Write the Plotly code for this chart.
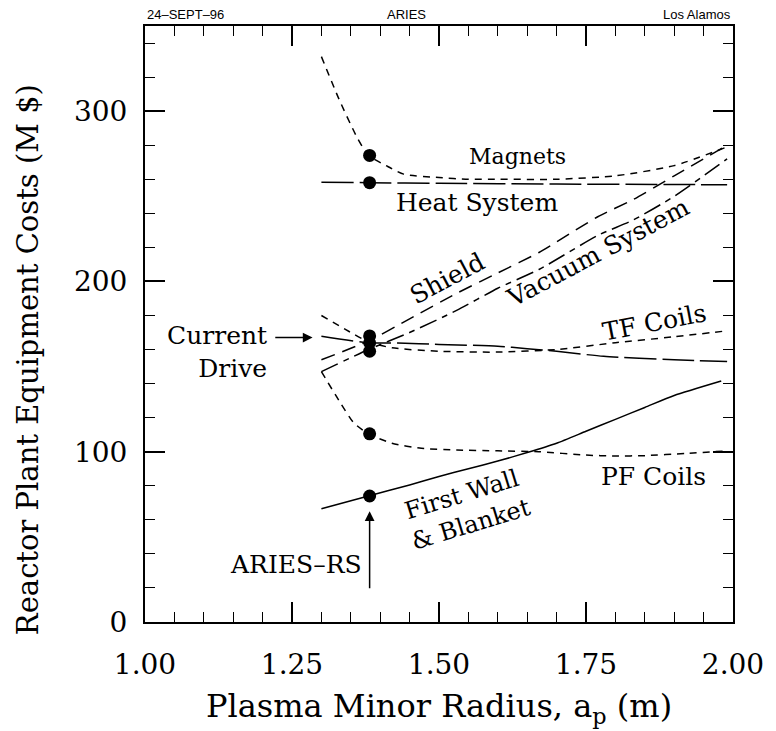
import plotly.graph_objects as go

# ---- data ----
magnets_x = [1.30, 1.33, 1.36, 1.38, 1.41, 1.44, 1.50, 1.55, 1.60, 1.70, 1.80, 1.90, 1.99]
magnets_y = [332, 307, 285, 274, 268, 263, 261, 260, 260, 260, 262, 268, 279]

heat_x = [1.30, 1.38, 1.50, 1.70, 1.90, 1.99]
heat_y = [258.3, 258, 257.6, 257.2, 256.9, 256.8]

shield_x = [1.30, 1.38, 1.45, 1.53, 1.60, 1.67, 1.77, 1.83, 1.90, 1.99]
shield_y = [154, 165, 178, 193, 205, 217, 238, 248, 262, 280]

vacuum_x = [1.30, 1.38, 1.45, 1.53, 1.60, 1.67, 1.77, 1.83, 1.90, 1.99]
vacuum_y = [147, 160, 170, 183, 196, 207, 227, 236, 250, 272]

current_x = [1.30, 1.38, 1.43, 1.50, 1.60, 1.65, 1.70, 1.78, 1.90, 1.99]
current_y = [167.8, 164, 163.8, 163, 162, 160.5, 159, 156, 154, 153]

tf_x = [1.30, 1.34, 1.38, 1.42, 1.50, 1.60, 1.70, 1.80, 1.90, 1.99]
tf_y = [180, 172, 164.5, 161, 159, 158.5, 160, 164, 167.5, 171]

pf_x = [1.30, 1.33, 1.355, 1.38, 1.42, 1.47, 1.53, 1.60, 1.67, 1.75, 1.80, 1.85, 1.92, 1.99]
pf_y = [147, 130, 117, 110.5, 105, 102, 101, 100.5, 100, 98, 97.5, 97.7, 99, 100.5]

fw_x = [1.30, 1.38, 1.45, 1.50, 1.55, 1.60, 1.65, 1.70, 1.75, 1.80, 1.85, 1.90, 1.98]
fw_y = [66.5, 74, 80.5, 85.5, 90, 94.5, 99.5, 105, 112, 119, 126, 133, 141.5]

design_x = [1.382] * 7
design_y = [274, 258, 168, 164, 159, 110.5, 74]

x_ticks = [1.00, 1.25, 1.50, 1.75, 2.00]
x_ticklabels = ["1.00", "1.25", "1.50", "1.75", "2.00"]
y_ticks = [0, 100, 200, 300]

SERIF = "DejaVu Serif"
BLACK = "black"
LW = 1.5

fig = go.Figure()

def add_line(x, y, dash):
    fig.add_trace(go.Scatter(x=x, y=y, mode="lines",
                             line=dict(color=BLACK, width=LW, dash=dash, shape="spline", smoothing=0.6),
                             hoverinfo="skip", showlegend=False))

add_line(magnets_x, magnets_y, "7px,6px")
add_line(heat_x, heat_y, "32px,6px")
add_line(shield_x, shield_y, "14px,8px")
add_line(vacuum_x, vacuum_y, "18px,6px,6px,6px")
add_line(current_x, current_y, "32px,6px")
add_line(tf_x, tf_y, "7px,6px")
add_line(pf_x, pf_y, "7px,6px")
add_line(fw_x, fw_y, "solid")

fig.add_trace(go.Scatter(x=design_x, y=design_y, mode="markers",
                         marker=dict(color=BLACK, size=13),
                         hoverinfo="skip", showlegend=False))

ann = []
def label(text, x, y, size=22, angle=0, xanchor="center", align="center"):
    ann.append(dict(text=text, x=x, y=y, xref="x", yref="y", showarrow=False,
                    textangle=angle, xanchor=xanchor, yanchor="middle", align=align,
                    font=dict(family=SERIF, size=size, color=BLACK)))

label("Magnets", 1.633, 273.5, size=22)
label("Heat System", 1.564, 246.4, size=25)
label("Shield", 1.514, 202, angle=-28, size=25)
label("Vacuum System", 1.771, 216.8, angle=-28, size=25)
label("TF Coils", 1.866, 175.7, angle=-11, size=25)
label("PF Coils", 1.865, 85.5, size=25)
label("First Wall<br>&amp; Blanket", 1.546, 66, angle=-17, size=24)
label("Current<br>Drive", 1.211, 158.3, xanchor="right", align="right", size=25)
label("ARIES\u2013RS", 1.372, 33.7, xanchor="right", size=25)

# arrows
ann.append(dict(text="", x=1.285, y=167, ax=1.219, ay=167, xref="x", yref="y",
                axref="x", ayref="y", showarrow=True, arrowhead=2, arrowsize=1.3,
                arrowwidth=1.5, arrowcolor=BLACK))
ann.append(dict(text="", x=1.382, y=65, ax=1.382, ay=19, xref="x", yref="y",
                axref="x", ayref="y", showarrow=True, arrowhead=2, arrowsize=1.3,
                arrowwidth=1.5, arrowcolor=BLACK))

# axis titles as annotations (positioned like the reference)
ann.append(dict(text="Reactor Plant Equipment Costs (M $)", x=-0.2, y=0.44,
                xref="paper", yref="paper", xanchor="center", yanchor="middle",
                textangle=-90, showarrow=False, font=dict(family=SERIF, size=29, color=BLACK)))
ann.append(dict(text="Plasma Minor Radius, a<sub>p</sub> (m)", x=0.5, y=-0.145,
                xref="paper", yref="paper", xanchor="center", yanchor="middle",
                showarrow=False, font=dict(family=SERIF, size=32, color=BLACK)))

# header
hdr_font = dict(family="Liberation Sans", size=13, color=BLACK)
ann.append(dict(text="24\u2013SEPT\u201396", x=0, y=1, xref="paper", yref="paper",
                xanchor="left", yanchor="bottom", yshift=2, showarrow=False, font=hdr_font))
ann.append(dict(text="ARIES", x=0.445, y=1, xref="paper", yref="paper",
                xanchor="center", yanchor="bottom", yshift=2, showarrow=False, font=hdr_font))
ann.append(dict(text="Los Alamos", x=1, y=1, xref="paper", yref="paper",
                xanchor="right", yanchor="bottom", yshift=2, showarrow=False, font=hdr_font))

fig.update_layout(
    width=776, height=731,
    margin=dict(l=144.5, r=36.5, t=26, b=108.7),
    paper_bgcolor="white", plot_bgcolor="white",
    annotations=ann,
    xaxis=dict(range=[1.0, 2.0], tickvals=x_ticks, ticktext=x_ticklabels,
               ticks="inside", ticklen=20, tickwidth=1.5, tickcolor=BLACK,
               minor=dict(dtick=0.05, tick0=1.0, ticks="inside", ticklen=10, tickwidth=1.2, tickcolor=BLACK, showgrid=False),
               showline=True, linecolor=BLACK, linewidth=2, mirror="allticks",
               showgrid=False, zeroline=False, ticklabelstandoff=16,
               tickfont=dict(family=SERIF, size=28, color=BLACK)),
    yaxis=dict(range=[0, 350], tickvals=y_ticks,
               ticks="inside", ticklen=20, tickwidth=1.5, tickcolor=BLACK,
               minor=dict(dtick=20, tick0=0, ticks="inside", ticklen=10, tickwidth=1.2, tickcolor=BLACK, showgrid=False),
               showline=True, linecolor=BLACK, linewidth=2, mirror="allticks",
               showgrid=False, zeroline=False, ticklabelstandoff=10,
               tickfont=dict(family=SERIF, size=28, color=BLACK)),
)

fig.write_html("out.html")
